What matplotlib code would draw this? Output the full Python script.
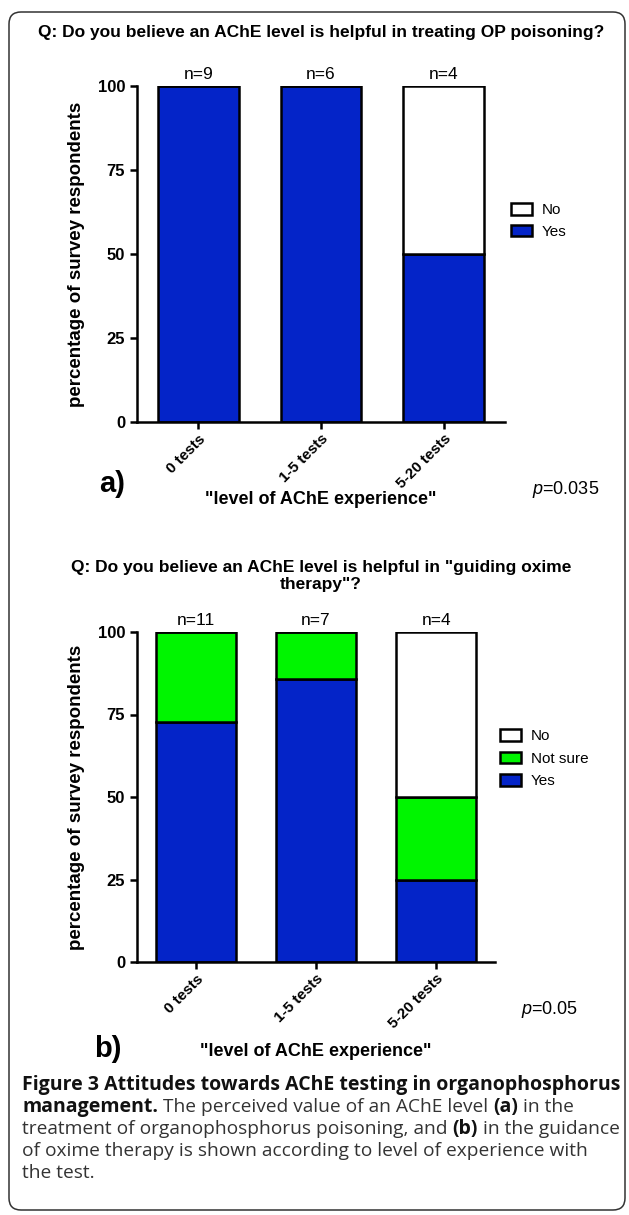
import matplotlib
matplotlib.use('Agg')
from matplotlib import pyplot as plt
from matplotlib.patches import Patch, FancyBboxPatch

plt.rcParams['font.family'] = ['Liberation Sans', 'DejaVu Sans']
plt.rcParams['mathtext.fontset'] = 'custom'
plt.rcParams['mathtext.rm'] = 'Liberation Sans'
plt.rcParams['mathtext.it'] = 'Liberation Sans:italic'

# data
groups = ['0 tests', '1-5 tests', '5-20 tests']

# panel a
a_n = [9, 6, 4]
a_yes = [100, 100, 50]
a_no = [0, 0, 50]

# panel b
b_n = [11, 7, 4]
b_yes = [72.7, 85.7, 25]
b_notsure = [27.3, 14.3, 25]
b_no = [0, 0, 50]

title_a = 'Q: Do you believe an AChE level is helpful in treating OP poisoning?'
title_b = 'Q: Do you believe an AChE level is helpful in "guiding oxime\ntherapy"?'
xlab = '"level of AChE experience"'
ylab = 'percentage of survey respondents'

BLUE = '#0424C8'
GREEN = '#00F500'
W, H = 629, 1215


def px(x, y):
    # pixel position (from top-left) to figure fraction
    return x / W, 1 - y / H


def style_axes(ax, xmax):
    ax.spines['top'].set_visible(False)
    ax.spines['right'].set_visible(False)
    for s in ['left', 'bottom']:
        ax.spines[s].set_linewidth(1.8)
    ax.set_ylim(0, 100)
    ax.set_xlim(-xmax, 2 + xmax)
    ax.set_yticks([0, 25, 50, 75, 100])
    ax.tick_params(axis='both', width=1.8, length=5, labelsize=12)
    ax.tick_params(axis='x', pad=2)
    ax.set_xticks(range(len(groups)))
    ax.set_xticklabels(groups, rotation=45, ha='right', va='top',
                       rotation_mode='anchor', fontweight='bold', fontsize=11)
    for lab in ax.get_yticklabels():
        lab.set_fontweight('bold')
    ax.set_ylabel(ylab, fontsize=13.5, fontweight='bold')


def n_labels(ax, ns):
    for i, n in enumerate(ns):
        ax.annotate('n=%d' % n, (i, 100), xytext=(0, 3), textcoords='offset points',
                    ha='center', va='bottom', fontsize=12.5, annotation_clip=False)


fig = plt.figure(figsize=(W / 100, H / 100), dpi=100)

# ---- panel a
ax1 = fig.add_axes([137 / W, 1 - 422 / H, 368 / W, 336 / H])
x = range(len(groups))
ax1.bar(x, a_yes, width=0.66, color=BLUE, edgecolor='black', linewidth=1.8, label='Yes')
ax1.bar(x, a_no, width=0.66, bottom=a_yes, color='white', edgecolor='black', linewidth=1.8, label='No')
style_axes(ax1, 0.5)
ax1.yaxis.set_label_coords(-0.141, 0.5)
n_labels(ax1, a_n)
h1 = [Patch(facecolor='white', edgecolor='black', linewidth=1.8),
      Patch(facecolor=BLUE, edgecolor='black', linewidth=1.8)]
ax1.legend(h1, ['No', 'Yes'], loc='upper left', bbox_to_anchor=px(511, 203),
           bbox_transform=fig.transFigure, frameon=False, fontsize=11,
           handlelength=1.4, handleheight=0.8, handletextpad=0.6,
           labelspacing=0.5, borderpad=0, borderaxespad=0)

# ---- panel b
ax2 = fig.add_axes([137 / W, 1 - 962 / H, 358 / W, 330 / H])
ax2.bar(x, b_yes, width=0.66, color=BLUE, edgecolor='black', linewidth=1.8)
bot = [a + b for a, b in zip(b_yes, b_notsure)]
ax2.bar(x, b_notsure, width=0.66, bottom=b_yes, color=GREEN, edgecolor='black', linewidth=1.8)
ax2.bar(x, b_no, width=0.66, bottom=bot, color='white', edgecolor='black', linewidth=1.8)
style_axes(ax2, 0.49)
ax2.yaxis.set_label_coords(-0.145, 0.5)
n_labels(ax2, b_n)
h2 = [Patch(facecolor='white', edgecolor='black', linewidth=1.8),
      Patch(facecolor=GREEN, edgecolor='black', linewidth=1.8),
      Patch(facecolor=BLUE, edgecolor='black', linewidth=1.8)]
ax2.legend(h2, ['No', 'Not sure', 'Yes'], loc='upper left', bbox_to_anchor=px(500, 729),
           bbox_transform=fig.transFigure, frameon=False, fontsize=11,
           handlelength=1.4, handleheight=0.8, handletextpad=0.6,
           labelspacing=0.55, borderpad=0, borderaxespad=0)

# titles, labels
fig.text(*px(321, 33), title_a, ha='center', va='center', fontsize=12.5, fontweight='bold')
fig.text(*px(321, 576), title_b, ha='center', va='center', fontsize=12.5,
         fontweight='bold', linespacing=1.15)
fig.text(*px(321, 499), xlab, ha='center', va='center', fontsize=13, fontweight='bold')
fig.text(*px(316, 1052), xlab, ha='center', va='center', fontsize=13, fontweight='bold')
fig.text(*px(112, 484), 'a)', ha='center', va='center', fontsize=21, fontweight='bold')
fig.text(*px(108, 1049), 'b)', ha='center', va='center', fontsize=21, fontweight='bold')
fig.text(*px(566, 490), r'$p$=0.035', ha='center', va='center', fontsize=13)
fig.text(*px(550, 1009), r'$p$=0.05', ha='center', va='center', fontsize=13)

# outer box
box = FancyBboxPatch((9 / 100, 5 / 100), 616 / 100, 1198 / 100,
                     boxstyle='round,pad=0,rounding_size=0.12',
                     transform=fig.dpi_scale_trans, fill=False,
                     edgecolor='#333333', linewidth=1.1)
fig.add_artist(box)

# caption with mixed bold / regular pieces
caption = [
    [('Figure 3 Attitudes towards AChE testing in organophosphorus', 'bold')],
    [('management.', 'bold'), (' The perceived value of an AChE level ', 'normal'),
     ('(a)', 'bold'), (' in the', 'normal')],
    [('treatment of organophosphorus poisoning, and ', 'normal'), ('(b)', 'bold'),
     (' in the guidance', 'normal')],
    [('of oxime therapy is shown according to level of experience with', 'normal')],
    [('the test.', 'normal')],
]
cap_font = 'Open Sans'
renderer = fig.canvas.get_renderer()


def text_width(s, weight, size):
    t = fig.text(0, 0, s, fontsize=size, fontweight=weight, family=cap_font)
    w = t.get_window_extent(renderer).width
    t.remove()
    return w


# bold first line spans x=22..618, regular fourth line spans x=22..584
sizes = {'bold': 12 * 596 / text_width(caption[0][0][0], 'bold', 12),
         'normal': 12 * 562 / text_width(caption[3][0][0], 'normal', 12)}
space_w = {wt: text_width('x x', wt, sizes[wt]) - text_width('xx', wt, sizes[wt])
           for wt in sizes}
colors = {'bold': '#111111', 'normal': '#333333'}

for k, line in enumerate(caption):
    xp = 22
    yb = 1090 + k * 22
    for s, wt in line:
        lead = len(s) - len(s.lstrip(' '))
        trail = len(s) - len(s.rstrip(' '))
        xp += lead * space_w[wt]
        core = s.strip(' ')
        t = fig.text(*px(xp, yb), core, fontsize=sizes[wt], fontweight=wt, family=cap_font,
                     ha='left', va='baseline', color=colors[wt])
        xp += t.get_window_extent(renderer).width + trail * space_w[wt]

fig.savefig('out.png', dpi=100)
